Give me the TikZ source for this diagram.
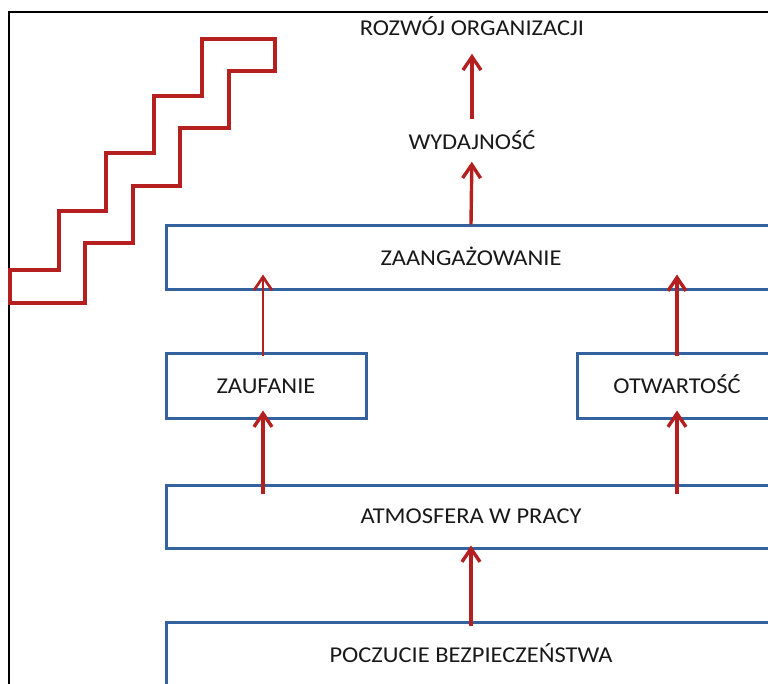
\documentclass[tikz,border=0pt]{standalone}
\usepackage{fontspec}
\setmainfont[FakeStretch=1.08]{Carlito}
\usetikzlibrary{arrows.meta}
\definecolor{stepred}{RGB}{180,32,32}
\definecolor{boxblue}{RGB}{52,98,158}
\begin{document}
\begin{tikzpicture}[x=0.75pt,y=-0.75pt,
  lbl/.style={font=\fontsize{17}{20}\selectfont, text=black!90, inner sep=0pt,
    text height=11.2pt, text depth=0pt},
  box/.style={lbl, draw=boxblue, line width=3pt*0.75, minimum height=#1*0.75pt},
  box/.default=64,
  arr/.style={draw=stepred, line width=3.4pt*0.75,
    -{Straight Barb[length=10pt,width=13.5pt]}},
  thinarr/.style={arr, line width=2.7pt*0.75}]
\path[use as bounding box, clip] (0,0) rectangle (768,684);

% outer frame
\draw[black, line width=1.5pt] (9,700) |- (790,12);

% staircase outline
\draw[stepred, line width=3.2pt*0.75, line join=miter]
  (10,270) -- (59,270) -- (59,211) -- (106,211) -- (106,153) -- (154,153)
  -- (154,96) -- (202,96) -- (202,39) -- (275,39) -- (275,71) -- (229,71)
  -- (229,128) -- (180,128) -- (180,186) -- (133,186) -- (133,243)
  -- (85,243) -- (85,303) -- (10,303) -- cycle;

% titles
\node[lbl] (rozwoj) at (472,28) {ROZWÓJ ORGANIZACJI};
\node[lbl] (wyd) at (472,142) {WYDAJNOŚĆ};

% boxes
\node[box, minimum width=610*0.75pt] (zaang) at (471,258) {ZAANGAŻOWANIE};
\node[box=65, minimum width=200*0.75pt] (zauf) at (266,386.5) {ZAUFANIE};
\node[box=65, minimum width=200*0.75pt] (otw) at (677,386.5) {OTWARTOŚĆ};
\node[box=63, minimum width=610*0.75pt] (atmos) at (471,516.5) {ATMOSFERA W PRACY};
\node[box=66, minimum width=610*0.75pt] (pocz) at (471,655) {POCZUCIE BEZPIECZEŃSTWA};

% arrows
\draw[arr, shorten <=15.5*0.75pt, shorten >=18*0.75pt] (wyd.north) -- (rozwoj.south);
\draw[arr, shorten >=12*0.75pt] (zaang.north) -- (wyd.south);
\draw[thinarr, shorten <=-4*0.75pt, shorten >=-17*0.75pt]
  ([xshift=-3*0.75pt]zauf.north) -- ([xshift=-3*0.75pt]zaang.south -| zauf.north);
\draw[arr, shorten <=-4*0.75pt, shorten >=-17*0.75pt]
  (otw.north) -- (zaang.south -| otw.north);
\draw[arr, shorten <=-10*0.75pt, shorten >=-10*0.75pt]
  ([xshift=-3*0.75pt]atmos.north -| zauf.south) -- ([xshift=-3*0.75pt]zauf.south);
\draw[arr, shorten <=-10*0.75pt, shorten >=-10*0.75pt]
  (atmos.north -| otw.south) -- (otw.south);
\draw[arr, shorten <=-5*0.75pt, shorten >=-4*0.75pt]
  (pocz.north) -- (atmos.south);
\end{tikzpicture}
\end{document}
